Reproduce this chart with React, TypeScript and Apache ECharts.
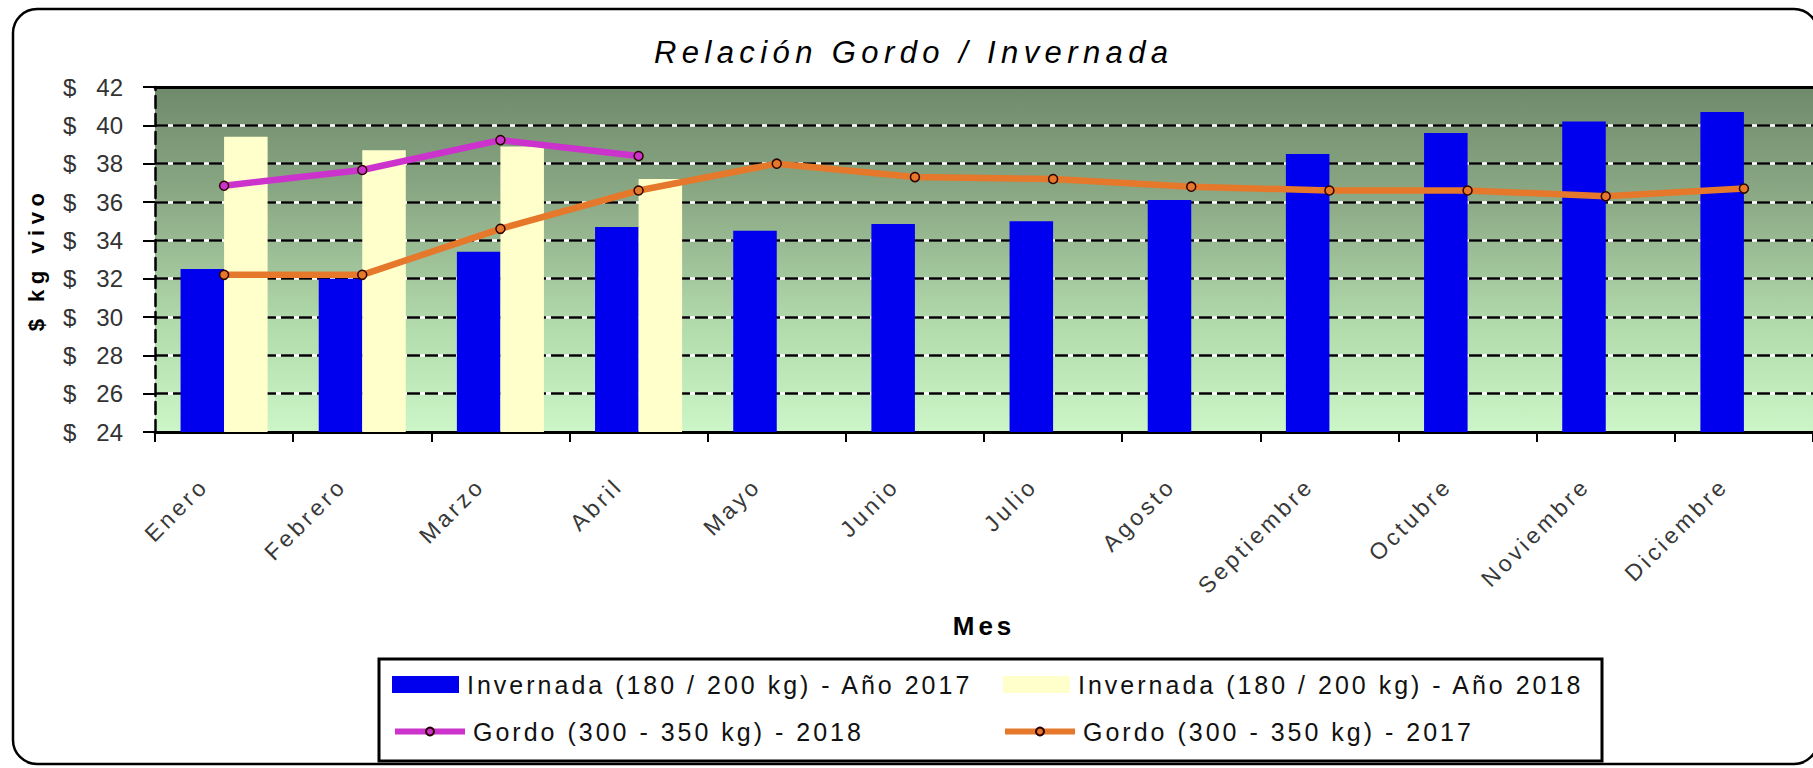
import React, { useEffect, useRef } from "react";
import * as echarts from "echarts";

const months = ["Enero", "Febrero", "Marzo", "Abril", "Mayo", "Junio", "Julio", "Agosto", "Septiembre", "Octubre", "Noviembre", "Diciembre"];
const invernada2017 = [32.5, 32.0, 33.4, 34.7, 34.5, 34.85, 35.0, 36.1, 38.5, 39.6, 40.2, 40.7];
const invernada2018 = [39.4, 38.7, 38.9, 37.2, null, null, null, null, null, null, null, null];
const gordo2018 = [36.85, 37.67, 39.23, 38.4, null, null, null, null, null, null, null, null];
const gordo2017 = [32.2, 32.2, 34.6, 36.6, 38.0, 37.3, 37.2, 36.8, 36.6, 36.6, 36.3, 36.7];
const seriesNames = [
  "Invernada (180 / 200 kg) - Año 2017",
  "Invernada (180 / 200 kg) - Año 2018",
  "Gordo (300 - 350 kg) - 2018",
  "Gordo (300 - 350 kg) - 2017",
];
const yMin = 24;
const yMax = 42;
const yStep = 2;

const FONT = "Liberation Sans";

export default function App() {
  const ref = useRef<HTMLDivElement>(null);
  useEffect(() => {
    if (!ref.current) return;
    const chart = echarts.init(ref.current, null, { renderer: "svg" });
    const legendCommon = {
      orient: "horizontal",
      padding: 0,
      selectedMode: false,
      textStyle: { fontFamily: FONT, fontSize: 25, color: "#111", padding: [0, 0, 0, 3] },
    };
    const option: any = {
      animation: false,
      backgroundColor: "#ffffff",
      title: {
        text: "Relación Gordo / Invernada",
        left: 654,
        top: 37,
        padding: 0,
        textStyle: { fontFamily: FONT, fontSize: 31, fontWeight: "normal", fontStyle: "italic", color: "#000" },
      },
      grid: {
        left: 155,
        top: 87,
        width: 1672,
        height: 345,
        show: true,
        borderWidth: 0,
        backgroundColor: {
          type: "linear",
          x: 0, y: 0, x2: 0, y2: 1,
          colorStops: [
            { offset: 0, color: "#6f8a6b" },
            { offset: 0.35, color: "#8eac88" },
            { offset: 0.7, color: "#b3dcad" },
            { offset: 1, color: "#cdf6c8" },
          ],
        },
      },
      xAxis: [
        {
          type: "category",
          data: months,
          position: "bottom",
          axisLine: { lineStyle: { color: "#000", width: 3 } },
          axisTick: { show: true, length: 10, lineStyle: { color: "#000", width: 2 } },
          axisLabel: {
            interval: 0,
            rotate: 45,
            margin: 30,
            padding: [0, 28, 0, 0],
            fontFamily: FONT,
            fontSize: 23,
            color: "#383838",
          },
          name: "Mes",
          nameLocation: "middle",
          nameGap: 181,
          nameTextStyle: { fontFamily: FONT, fontSize: 26, fontWeight: "bold", color: "#000" },
          splitLine: { show: false },
        },
        {
          type: "category",
          data: months,
          position: "top",
          axisLine: { lineStyle: { color: "#000", width: 3 } },
          axisTick: { show: false },
          axisLabel: { show: false },
          splitLine: { show: false },
        },
      ],
      yAxis: [
        {
          type: "value",
          min: yMin,
          max: yMax,
          interval: yStep,
          position: "right",
          z: 0,
          axisLine: { show: false },
          axisTick: { show: false },
          axisLabel: { show: false },
          splitLine: { show: true, lineStyle: { color: "#ffffff", width: 2.5, type: "solid" } },
        },
        {
          type: "value",
          min: yMin,
          max: yMax,
          interval: yStep,
          position: "left",
          z: 1,
          axisLine: { show: true, lineStyle: { color: "#000", width: 2.5, type: [12, 6] } },
          axisTick: { show: true, length: 12, lineStyle: { color: "#000", width: 2 } },
          axisLabel: {
            margin: 32,
            padding: [0, 0, 8, 0],
            fontFamily: FONT,
            fontSize: 24,
            color: "#333",
            formatter: (v: number) => "$\u00a0\u00a0\u00a0" + v,
          },
          splitLine: { show: true, lineStyle: { color: "#000", width: 2.5, type: [13, 5] } },
          name: "$ kg vivo",
          nameLocation: "middle",
          nameRotate: 90,
          nameGap: 108,
          nameTextStyle: { fontFamily: FONT, fontSize: 22, fontWeight: "bold", color: "#000" },
        },
      ],
      legend: [
        { ...legendCommon, data: [{ name: seriesNames[0], icon: "rect" }], left: 392, top: 672, itemWidth: 67, itemHeight: 17 },
        { ...legendCommon, data: [{ name: seriesNames[1], icon: "rect" }], left: 1003, top: 672, itemWidth: 67, itemHeight: 17 },
        { ...legendCommon, data: [{ name: seriesNames[2] }], left: 392, top: 719, itemWidth: 70, itemHeight: 10, lineStyle: { width: 6 } },
        { ...legendCommon, data: [{ name: seriesNames[3] }], left: 1002, top: 719, itemWidth: 70, itemHeight: 10, lineStyle: { width: 6 } },
      ],
      graphic: [
        {
          type: "rect",
          z: 100,
          silent: true,
          shape: { x: 13, y: 9, width: 1805, height: 755, r: 24 },
          style: { fill: "none", stroke: "#000", lineWidth: 2.5 },
        },
        {
          type: "rect",
          z: 100,
          silent: true,
          shape: { x: 379, y: 659, width: 1223, height: 102 },
          style: { fill: "none", stroke: "#000", lineWidth: 3 },
        },
      ],
      series: [
        {
          name: seriesNames[0],
          type: "bar",
          data: invernada2017,
          barGap: "0%",
          barCategoryGap: "37%",
          itemStyle: { color: "#0000ee" },
        },
        {
          name: seriesNames[1],
          type: "bar",
          data: invernada2018,
          barGap: "0%",
          barCategoryGap: "37%",
          itemStyle: { color: "#ffffcc" },
        },
        {
          name: seriesNames[2],
          type: "line",
          data: gordo2018,
          symbol: "circle",
          symbolSize: 9,
          lineStyle: { color: "#cc33cc", width: 6.5 },
          itemStyle: { color: "#cc33cc", borderColor: "#2a0000", borderWidth: 1.5 },
          z: 4,
        },
        {
          name: seriesNames[3],
          type: "line",
          data: gordo2017,
          symbol: "circle",
          symbolSize: 9,
          lineStyle: { color: "#e5782a", width: 6.5 },
          itemStyle: { color: "#e5782a", borderColor: "#2a0000", borderWidth: 1.5 },
          z: 4,
        },
      ],
    };
    chart.setOption(option);
    return () => chart.dispose();
  }, []);

  return (
    <>
      <style>{`
        #chart-root svg text[style*="31px"] { letter-spacing: 5.4px; }
        #chart-root svg text[style*="23px"] { letter-spacing: 3.5px; }
        #chart-root svg text[style*="25px"] { letter-spacing: 3px; }
        #chart-root svg text[style*="26px"] { letter-spacing: 4px; }
        #chart-root svg text[style*="22px"] { letter-spacing: 5.5px; }
      `}</style>
      <div
        id="chart-root"
        ref={ref}
        style={{ position: "fixed", left: 0, top: 0, width: 1813, height: 768, background: "#fff" }}
      />
    </>
  );
}
